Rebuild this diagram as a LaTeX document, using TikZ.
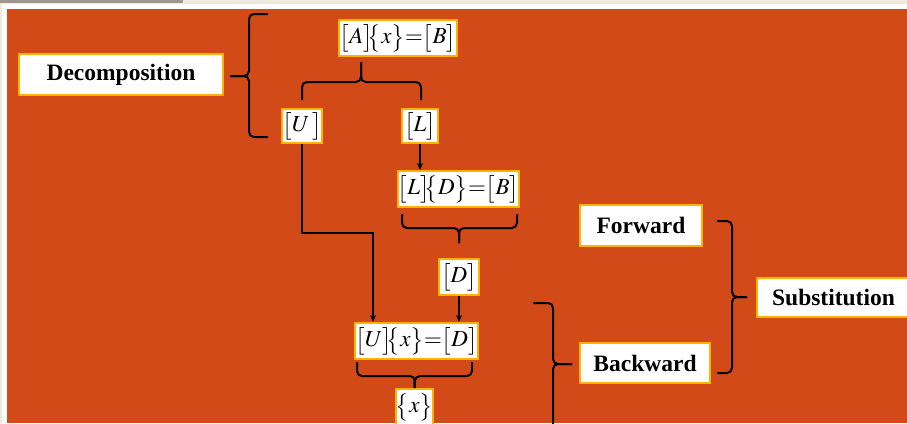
\documentclass[tikz,border=0pt]{standalone}
\usepackage{mathptmx}
\usepackage[no-math]{fontspec}
\setmainfont{Liberation Serif}
\usetikzlibrary{arrows.meta}

\definecolor{bgorange}{HTML}{D24A18}
\definecolor{boxedge}{HTML}{FFB300}
\definecolor{framebeige}{HTML}{EEE8DD}
\definecolor{tabgray}{HTML}{9C9890}

\begin{document}
\begin{tikzpicture}[x=1pt, y=-1pt,
  box/.style={draw=boxedge, fill=white, line width=2pt, inner sep=0pt,
    font=\fontsize{23}{27}\selectfont},
  lbl/.style={box, font=\fontsize{23.5}{27}\selectfont\bfseries},
  brc/.style={line width=2pt, rounded corners=5pt},
  arr/.style={line width=1.6pt, -{Stealth[length=7pt,width=6pt]}}]
  \clip (0,0) rectangle (907,423);

  % frame
  \fill[framebeige] (0,0) rectangle (907,423);
  \fill[tabgray] (0,0) rectangle (183,3);
  \fill[white] (2,4) rectangle (907,423);
  \fill[bgorange] (7,9) rectangle (907,423);

  % labels
  \node[lbl, minimum width=204pt, minimum height=41pt] (decomp) at (121,74.5) {Decomposition};
  \node[lbl, minimum width=122pt, minimum height=41pt] (fwd) at (641,225.5) {Forward};
  \node[lbl, minimum width=130pt, minimum height=40pt] (bwd) at (645,363) {Backward};
  \node[lbl, minimum width=153pt, minimum height=39pt] (subst) at (833.5,297.5) {Substitution};

  % equations
  \node[box, minimum width=118pt, minimum height=36pt] (eqAB) at (398,38)
    {$\bigl[A\bigr]\mkern-4mu\bigl\{x\bigr\}\mkern-4mu=\mkern-4mu\bigl[B\bigr]$};
  \node[box, minimum width=40pt, minimum height=34pt] (U) at (302,126) {$\bigl[U\,\bigr]$};
  \node[box, minimum width=36pt, minimum height=34pt] (L) at (420,126) {$\bigl[L\bigr]$};
  \node[box, minimum width=121pt, minimum height=36pt] (eqLD) at (458.5,189)
    {$\bigl[L\bigr]\mkern-4mu\bigl\{D\bigr\}\mkern-4mu=\mkern-4mu\bigl[B\bigr]$};
  \node[box, minimum width=40pt, minimum height=36pt] (D) at (459,277) {$\bigl[D\bigr]$};
  \node[box, minimum width=121pt, minimum height=36pt] (eqUx) at (416.5,341)
    {$\bigl[U\bigr]\mkern-4mu\bigl\{x\bigr\}\mkern-4mu=\mkern-4mu\bigl[D\bigr]$};
  \node[box, minimum width=37pt, minimum height=36pt] (x) at (414.5,407) {$\bigl\{x\bigr\}$};

  % braces
  \draw[brc] (268,14) -| (249,76) -- (230,76);
  \draw[brc] (268,137) -| (249,76) -- (230,76);
  \draw[brc] (302,100) |- (361,82) -- (361,62);
  \draw[brc] (421,100) |- (361,82) -- (361,62);
  \draw[brc] (402,214) |- (459,228) -- (459,243);
  \draw[brc] (517,214) |- (459,228) -- (459,243);
  \draw[brc] (357,362) |- (415,376) -- (x.north);
  \draw[brc] (472,362) |- (415,376) -- (x.north);
  \draw[brc] (533,303) -| (553,364) -- (572,364);
  \draw[brc] (553,440) -- (553,364) -- (572,364);
  \draw[brc] (717,221) -| (732,297) -- (747,297);
  \draw[brc] (717,373) -| (732,297) -- (747,297);

  % arrows
  \coordinate (bend) at (373,233);
  \draw[arr] (U.south) |- (bend) -- (bend |- eqUx.north);
  \draw[arr] (L.south) -- (L.south |- eqLD.north);
  \draw[arr] (D.south) -- (D.south |- eqUx.north);
\end{tikzpicture}
\end{document}
